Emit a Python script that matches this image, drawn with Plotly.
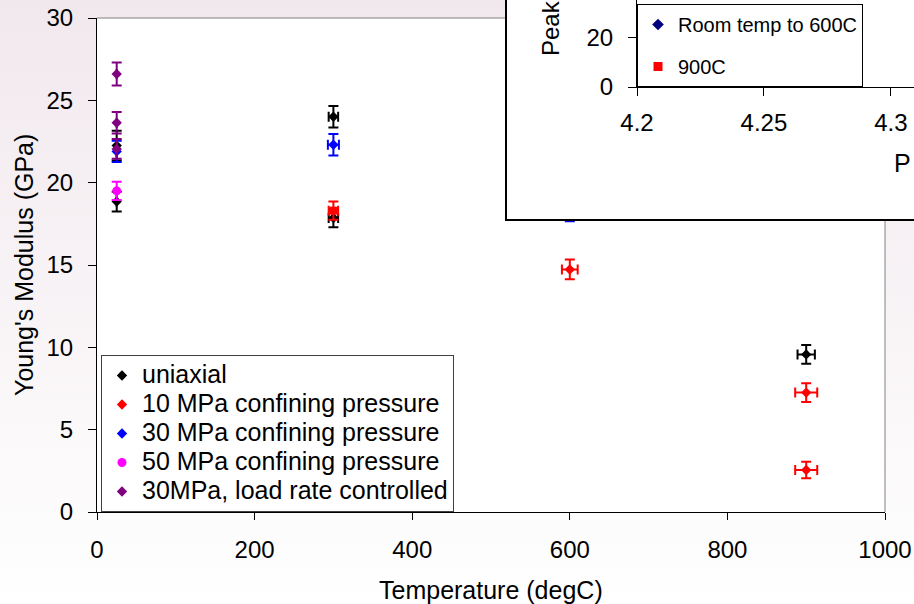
import base64
import plotly.graph_objects as go

# ---------------- data ----------------
uni_T = [25, 25, 300, 300, 900]
uni_E = [22.25, 18.85, 24.0, 17.85, 9.57]
uni_Eerr = [0.9, 0.6, 0.65, 0.55, 0.57]
uni_Terr = [0, 0, 6, 6, 11]

p10_T = [600, 900, 900, 300]
p10_E = [14.73, 7.25, 2.55, 18.3]
p10_Eerr = [0.6, 0.57, 0.5, 0.55]
p10_Terr = [10, 14, 14, 6]

p30_T = [25, 300, 600]
p30_E = [21.9, 22.3, 18.3]
p30_Eerr = [0.65, 0.65, 0.65]
p30_Terr = [0, 7, 10]

p50_T = [25]
p50_E = [19.5]
p50_Eerr = [0.55]
p50_Terr = [0]

lr_T = [25, 25, 25]
lr_E = [26.6, 23.64, 22.05]
lr_Eerr = [0.7, 0.65, 0.6]
lr_Terr = [0, 0, 0]

series_names = ["uniaxial", "10 MPa confining pressure", "30 MPa confining pressure",
                "50 MPa confining pressure", "30MPa, load rate controlled"]
inset_names = ["Room temp to 600C", "900C"]

x_ticks = [0, 200, 400, 600, 800, 1000]
y_ticks = [0, 5, 10, 15, 20, 25, 30]
inset_x_ticks = [4.2, 4.25, 4.3]
inset_x_labels = ["4.2", "4.25", "4.3"]
inset_y_ticks = [0, 20]

# ---------------- figure ----------------
W, H = 914, 604
FONT = "Arial, Liberation Sans, sans-serif"


def px(x):
    return x / W


def py(y):
    return (H - y) / H


def big(t, size=25):
    return f'<span style="font-size:{size}px">{t}</span>'


fig = go.Figure()


def add_series(T, E, Eerr, Terr, name, color, symbol, size):
    fig.add_trace(go.Scatter(
        x=T, y=E, mode="markers", name=big(name),
        marker=dict(symbol=symbol, size=size, color=color, line=dict(width=0)),
        error_y=dict(type="data", array=Eerr, visible=True, color=color, thickness=2, width=5),
        error_x=dict(type="data", array=Terr, visible=True, color=color, thickness=2, width=5),
        xaxis="x", yaxis="y", legend="legend",
    ))


add_series(uni_T, uni_E, uni_Eerr, uni_Terr, series_names[0], "#000000", "diamond", 8)
add_series(p10_T, p10_E, p10_Eerr, p10_Terr, series_names[1], "#ff0000",
           ["diamond", "diamond", "diamond", "square"], 8)
add_series(p30_T, p30_E, p30_Eerr, p30_Terr, series_names[2], "#0000ff", "diamond", 8)
add_series(p50_T, p50_E, p50_Eerr, p50_Terr, series_names[3], "#ff00ff", "circle", 9)
add_series(lr_T, lr_E, lr_Eerr, lr_Terr, series_names[4], "#800080", "diamond", 8)

# white box subplot (covers the main plot)
fig.add_trace(go.Scatter(x=[None], y=[None], xaxis="x2", yaxis="y2", showlegend=False,
                         hoverinfo="skip", mode="markers"))

# inset series (legend entries only; no points visible in the shown range)
fig.add_trace(go.Scatter(x=[None], y=[None], mode="markers", name=inset_names[0],
                         marker=dict(symbol="diamond", size=9, color="#000080"),
                         xaxis="x3", yaxis="y3", legend="legend2", legendgroup="a"))
fig.add_trace(go.Scatter(x=[None], y=[None], mode="markers", name=inset_names[1],
                         marker=dict(symbol="square", size=9, color="#ff0000"),
                         xaxis="x3", yaxis="y3", legend="legend2", legendgroup="b"))

svg = ("<svg xmlns='http://www.w3.org/2000/svg' width='914' height='604'>"
       "<defs><linearGradient id='g' x1='0' y1='0' x2='0' y2='1'>"
       "<stop offset='0' stop-color='#f1e8ed'/><stop offset='1' stop-color='#ffffff'/>"
       "</linearGradient></defs><rect width='914' height='604' fill='url(#g)'/></svg>")
svg_uri = "data:image/svg+xml;base64," + base64.b64encode(svg.encode()).decode()

mx0, mx1 = px(97), px(885)
my0, my1 = py(512), py(18)

common_axis = dict(showgrid=False, zeroline=False, automargin=False)

fig.update_layout(
    width=W, height=H,
    margin=dict(l=0, r=0, t=0, b=0, pad=0),
    paper_bgcolor="#ffffff",
    plot_bgcolor="#ffffff",
    font=dict(family=FONT, size=24, color="#000000"),
    images=[dict(source=svg_uri, xref="paper", yref="paper", x=0, y=1, sizex=1, sizey=1,
                 sizing="stretch", layer="below", xanchor="left", yanchor="top")],
    xaxis=dict(domain=[mx0, mx1], range=[0, 1000], tickvals=x_ticks,
               showline=True, linecolor="#000000", linewidth=1,
               ticks="outside", ticklen=7, tickcolor="#000000", tickfont=dict(size=24),
               ticklabelstandoff=9, anchor="y", **common_axis),
    yaxis=dict(domain=[my0, my1], range=[0, 30], tickvals=y_ticks,
               showline=True, linecolor="#000000", linewidth=1,
               ticks="outside", ticklen=8, tickcolor="#000000", tickfont=dict(size=24),
               ticklabelstandoff=10, anchor="x", **common_axis),
    xaxis2=dict(domain=[px(507), 1], range=[0, 1],
                showticklabels=False, ticks="", showline=True, mirror=True,
                linecolor="#000000", linewidth=2, anchor="y2", fixedrange=True, **common_axis),
    yaxis2=dict(domain=[py(219), 1], range=[0, 1],
                showticklabels=False, ticks="", showline=True, mirror=True,
                linecolor="#000000", linewidth=2, anchor="x2", fixedrange=True, **common_axis),
    xaxis3=dict(domain=[px(637), 1], range=[4.2, 4.3091], tickvals=inset_x_ticks,
                ticktext=inset_x_labels,
                showline=True, linecolor="#000000", linewidth=1, ticks="outside",
                ticklen=8, tickcolor="#000000", tickfont=dict(size=24),
                ticklabelstandoff=6, anchor="y3", **common_axis),
    yaxis3=dict(domain=[py(87), 1], range=[0, 35.5], tickvals=inset_y_ticks,
                showline=True, linecolor="#000000",
                linewidth=1, ticks="outside", ticklen=8, tickcolor="#000000",
                tickfont=dict(size=24), ticklabelstandoff=10, anchor="x3", **common_axis),
    legend=dict(x=px(101), y=py(355), xanchor="left", yanchor="top",
                bgcolor="#ffffff", bordercolor="#404040", borderwidth=1,
                font=dict(family=FONT, size=20, color="#000000"), tracegroupgap=0),
    legend2=dict(x=px(637), y=py(4), xanchor="left", yanchor="top",
                 bgcolor="#ffffff", bordercolor="#000000", borderwidth=1,
                 font=dict(family=FONT, size=20, color="#000000"), tracegroupgap=13,
                 traceorder="grouped"),
    shapes=[
        dict(type="rect", xref="paper", yref="paper", x0=mx0, x1=mx1, y0=my0, y1=my1,
             fillcolor="#ffffff", line=dict(width=0), layer="below"),
        dict(type="line", xref="paper", yref="paper", x0=mx0, x1=mx1, y0=my1, y1=my1,
             line=dict(color="#808080", width=1), layer="below"),
        dict(type="line", xref="paper", yref="paper", x0=mx1, x1=mx1, y0=my0, y1=my1,
             line=dict(color="#808080", width=1), layer="below"),
    ],
    annotations=[
        dict(text="Temperature (degC)", xref="paper", yref="paper", x=px(491), y=py(590),
             xanchor="center", yanchor="middle", showarrow=False, font=dict(size=25)),
        dict(text="Young's Modulus (GPa)", xref="paper", yref="paper", x=px(24), y=py(265),
             xanchor="center", yanchor="middle", textangle=-90, showarrow=False,
             font=dict(size=25)),
        dict(text="Peak", xref="paper", yref="paper", x=px(550), y=py(58),
             xanchor="center", yanchor="bottom", textangle=-90, showarrow=False,
             font=dict(size=24)),
        dict(text="P", xref="paper", yref="paper", x=px(892), y=py(163),
             xanchor="left", yanchor="middle", showarrow=False, font=dict(size=25)),
    ],
    showlegend=True,
)

fig.write_html("out.html")
